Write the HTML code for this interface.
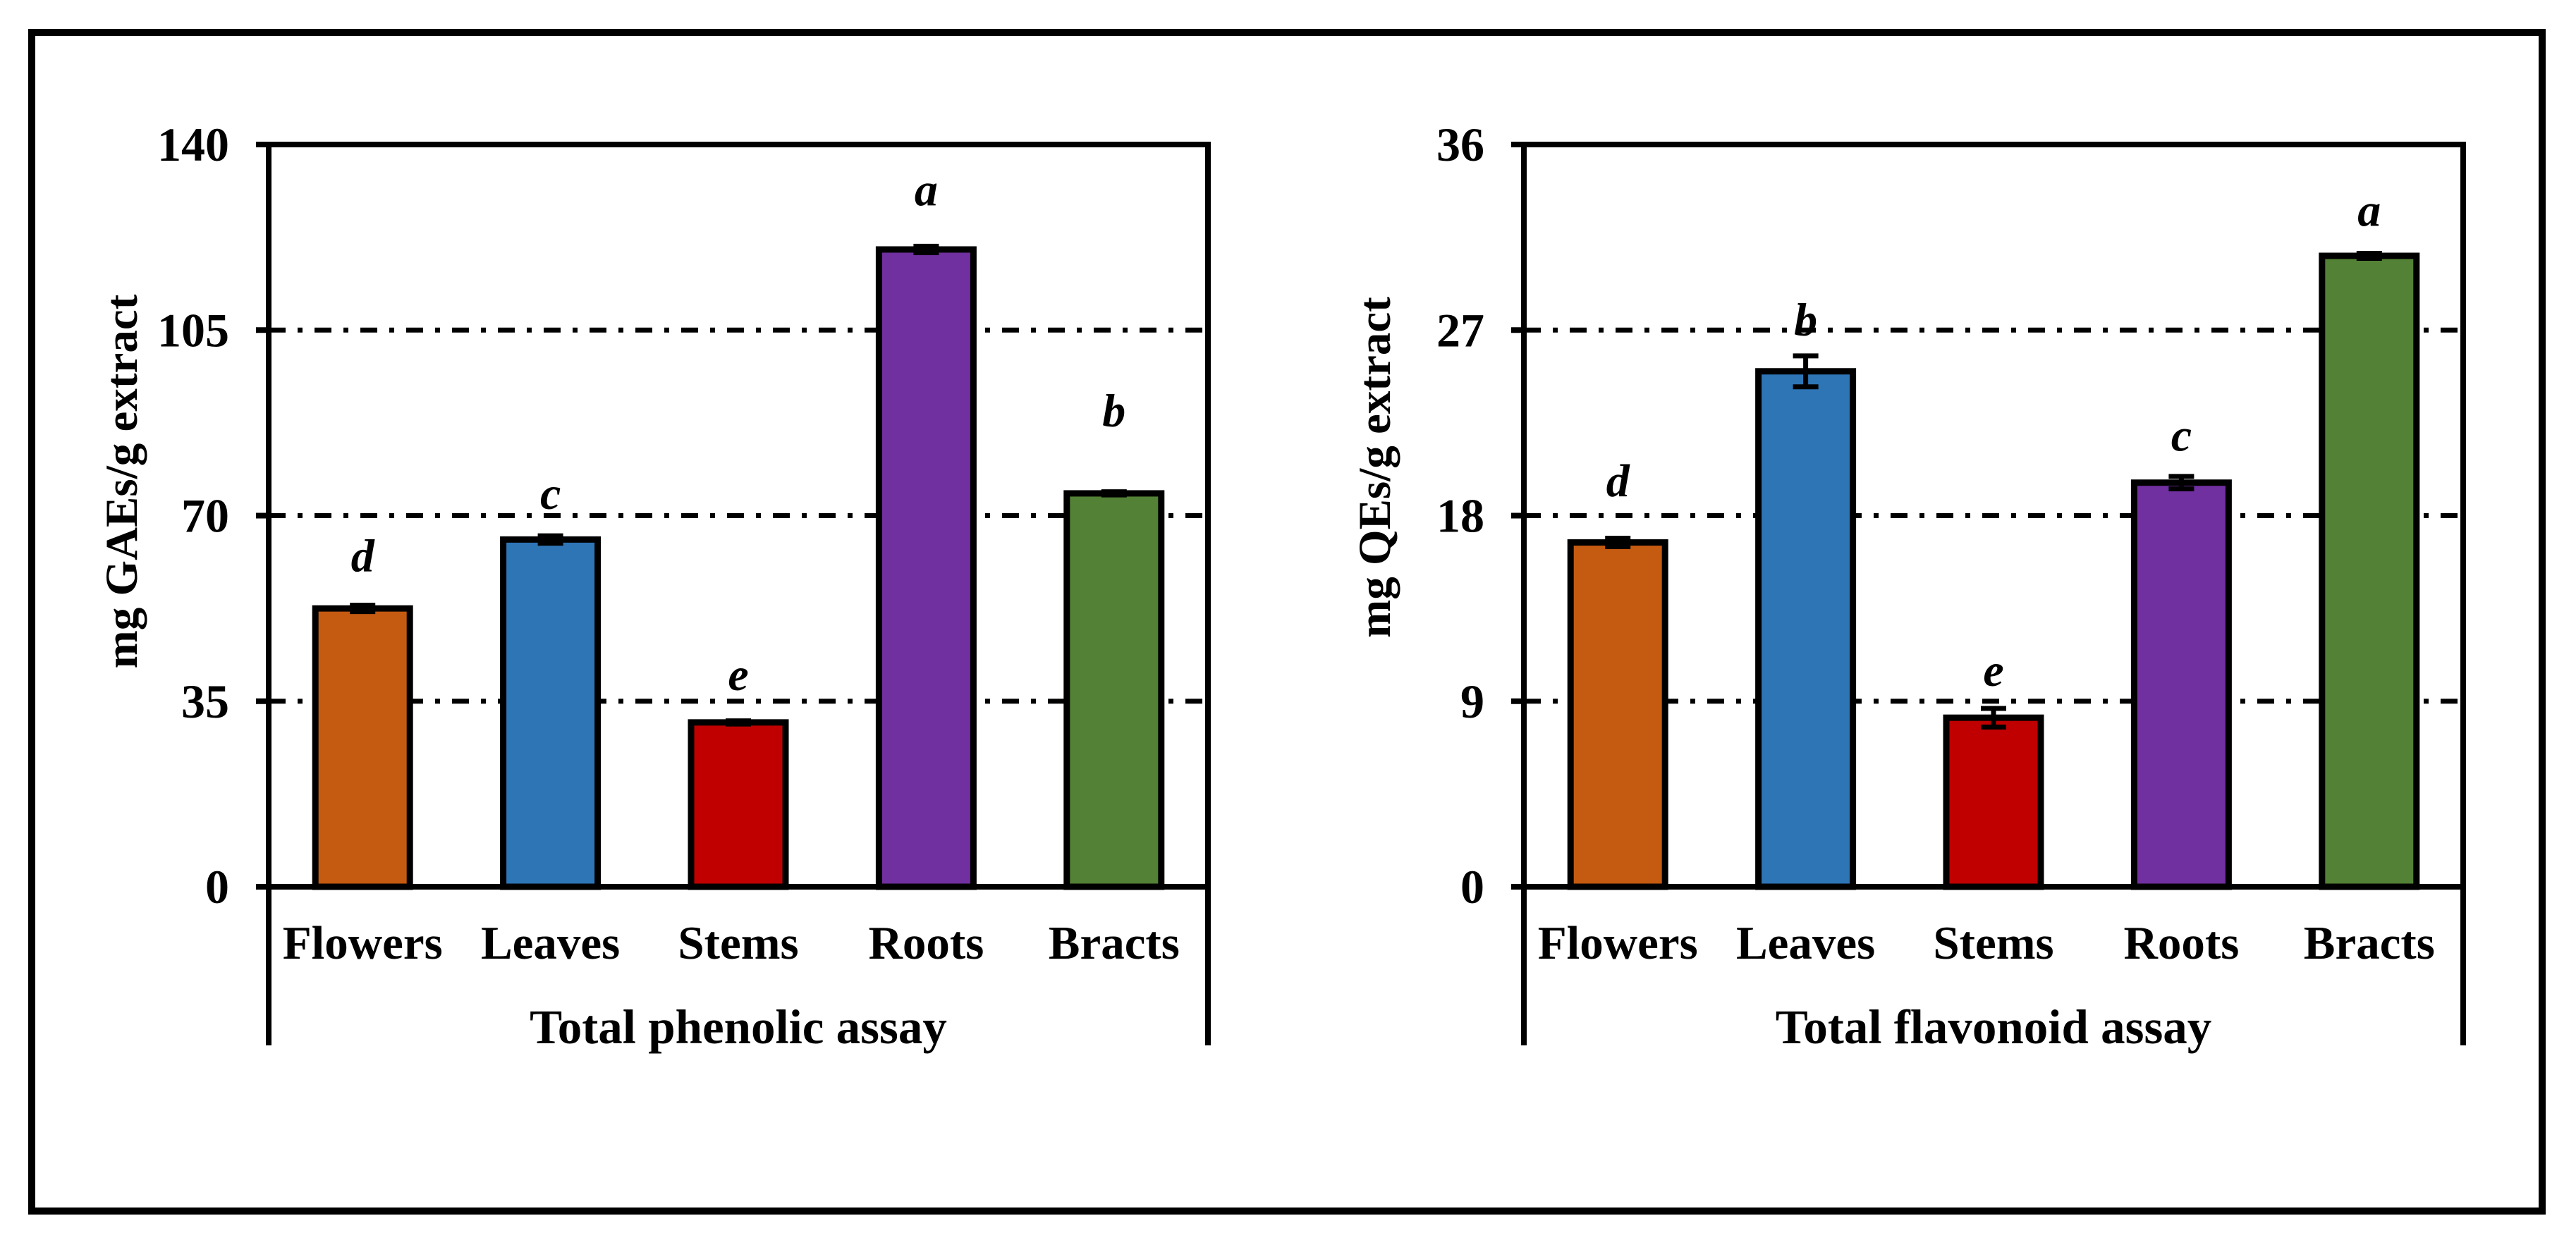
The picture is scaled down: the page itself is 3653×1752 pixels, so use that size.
<!DOCTYPE html>
<html><head><meta charset="utf-8"><style>
html,body{margin:0;padding:0;background:#fff;}
svg{display:block;}
text{font-family:"Liberation Serif",serif;font-weight:bold;fill:#000;}
</style></head><body>
<svg id="fig" width="3653" height="1752" viewBox="0 0 3653 1752" xmlns="http://www.w3.org/2000/svg">
<rect x="45" y="46" width="3560" height="1672" fill="none" stroke="#000" stroke-width="10"/>
<g id="left"></g>
<g id="right"></g>
</svg>
<script>
const categories = ["Flowers","Leaves","Stems","Roots","Bracts"];
const colors = ["#C55A11","#2E75B6","#C00000","#7030A0","#538135"];
const phenolicValues = [52.5, 65.5, 31, 120.2, 74.2];
const phenolicErrors = [0.6, 0.7, 0.3, 0.6, 0.3];
const phenolicLetters = ["d","c","e","a","b"];
const phenolicLetterY = [62.4, 74.2, 40, 131.4, 89.8];
const phenolicTicks = [0, 35, 70, 105, 140];
const flavonoidValues = [16.7, 25.0, 8.2, 19.6, 30.6];
const flavonoidErrors = [0.2, 0.75, 0.45, 0.3, 0.12];
const flavonoidLetters = ["d","b","e","c","a"];
const flavonoidLetterY = [19.7, 27.5, 10.5, 21.9, 32.8];
const flavonoidTicks = [0, 9, 18, 27, 36];

const NS = "http://www.w3.org/2000/svg";
function mk(tag, attrs, parent){
  const e = document.createElementNS(NS, tag);
  for (const k in attrs) e.setAttribute(k, attrs[k]);
  parent.appendChild(e);
  return e;
}
function drawChart(g, opt){
  const L = opt.left, R = opt.left + 1332, T = 205, B = 1258;
  const ymax = opt.ticks[opt.ticks.length-1];
  const y = v => B - (v / ymax) * (B - T);
  const band = (R - L) / categories.length;
  const xc = i => L + band * (i + 0.5);
  opt.ticks.forEach((t, i) => {
    if (i > 0 && i < opt.ticks.length - 1) {
      const gl = mk("line", {x1:L, x2:R, y1:y(t), y2:y(t), stroke:"#000", "stroke-width":7, "stroke-dasharray":"24 17 7 17"}, g);
      
      
    }
    const tk = mk("line", {x1:L-18, x2:L, y1:y(t), y2:y(t), stroke:"#000", "stroke-width":8}, g);
    
    
    const tl = mk("text", {x:L-56, y:y(t)+23, "text-anchor":"end", "font-size":68}, g);
    tl.textContent = t;
    
    
  });
  categories.forEach((c, i) => {
    const v = opt.values[i];
    const bw = 134;
    const bar = mk("rect", {x:xc(i)-bw/2, y:y(v), width:bw, height:B-y(v), fill:colors[i], stroke:"#000", "stroke-width":9}, g);
    
    
    const e = opt.errors[i];
    const eb = mk("path", {d:`M${xc(i)-18},${y(v+e)}H${xc(i)+18}M${xc(i)},${y(v+e)}V${y(v-e)}M${xc(i)-18},${y(v-e)}H${xc(i)+18}`, stroke:"#000", "stroke-width":7, fill:"none"}, g);
    
    
    const lt = mk("text", {x:xc(i), y:y(opt.letterY[i])+22, "text-anchor":"middle", "font-size":66, "font-style":"italic"}, g);
    lt.textContent = opt.letters[i];
    
    
    const cl = mk("text", {x:xc(i), y:1360, "text-anchor":"middle", "font-size":67}, g);
    cl.textContent = c;
    
    
  });
  const fr = mk("path", {d:`M${L},${B}V${T}H${R}V${B}`, fill:"none", stroke:"#000", "stroke-width":8}, g);
  
  
  const xa = mk("path", {d:`M${L-18},${B}H${R}M${L},${B}V1483M${R},${B}V1483`, fill:"none", stroke:"#000", "stroke-width":8}, g);
  
  
  const xt = mk("text", {x:(L+R)/2, y:1480, "text-anchor":"middle", "font-size":69}, g);
  xt.textContent = opt.xtitle;
  
  
  const yt = mk("text", {x:0, y:0, "text-anchor":"middle", "font-size":65, transform:`translate(${opt.ytx},${opt.yty}) rotate(-90)`}, g);
  yt.textContent = opt.ytitle;
  
  
}
drawChart(document.getElementById("left"), {left:381, ticks:phenolicTicks, values:phenolicValues, errors:phenolicErrors, letters:phenolicLetters, letterY:phenolicLetterY, xtitle:"Total phenolic assay", ytitle:"mg GAEs/g extract", ytx:194, yty:683});
drawChart(document.getElementById("right"), {left:2161, ticks:flavonoidTicks, values:flavonoidValues, errors:flavonoidErrors, letters:flavonoidLetters, letterY:flavonoidLetterY, xtitle:"Total flavonoid assay", ytitle:"mg QEs/g extract", ytx:1971, yty:663});
</script>
</body></html>
